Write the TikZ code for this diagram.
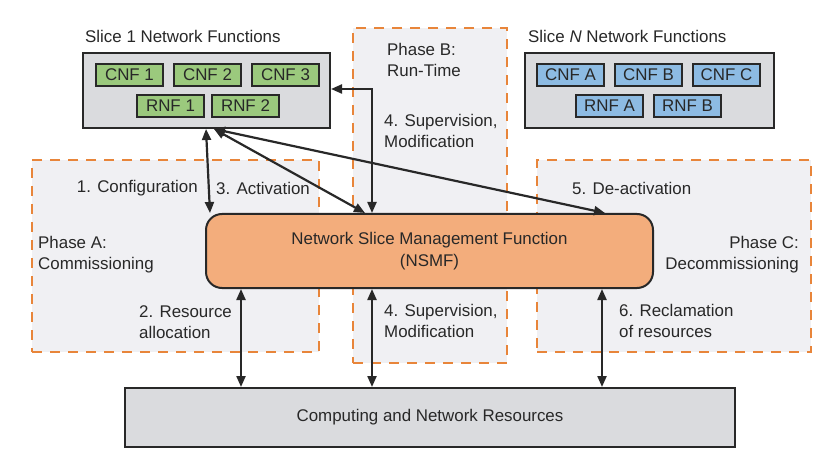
\documentclass[tikz,border=0pt]{standalone}
\usepackage{fontspec}
\setmainfont{Liberation Sans}
\usetikzlibrary{arrows.meta}
\definecolor{grn}{RGB}{155,201,125}
\definecolor{blu}{RGB}{141,187,227}
\definecolor{boxgray}{RGB}{218,219,222}
\definecolor{phasebg}{RGB}{240,240,243}
\definecolor{orng}{RGB}{232,133,58}
\definecolor{nsmfc}{RGB}{243,173,124}
\definecolor{dk}{RGB}{40,40,40}
\begin{document}
\begin{tikzpicture}[x=1pt,y=-1pt,
  lbl/.style={font=\fontsize{16.9}{21}\selectfont, inner sep=0pt, align=left, text=dk},
  phase/.style={draw=orng, fill=phasebg, line width=2pt, dash pattern=on 10pt off 8pt, inner sep=0pt, anchor=north west},
  slicebox/.style={draw=dk, fill=boxgray, line width=2pt, inner sep=0pt, anchor=north west, minimum height=75pt},
  nf/.style={draw=dk, line width=2pt, inner sep=0pt, anchor=north west, minimum width=67pt, minimum height=22pt, font=\fontsize{16.9}{20}\selectfont, text=dk},
  cnf/.style={nf, fill=grn},
  bnf/.style={nf, fill=blu},
  dbl/.style={draw=dk, line width=2.2pt, {Triangle[length=11pt,width=9pt]}-{Triangle[length=11pt,width=9pt]}},
]
\useasboundingbox[fill=white] (0,0) rectangle (821,462);

% phase regions
\node[phase, minimum width=287pt, minimum height=192pt] (pa) at (31,159) {};
\node[phase, minimum width=154pt, minimum height=335pt] (pb) at (352,27) {};
\node[phase, minimum width=274pt, minimum height=192pt] (pc) at (536,159) {};

% slice 1
\node[lbl, anchor=west] (t1) at (85,36) {Slice 1 Network Functions};
\node[slicebox, minimum width=247pt] (s1) at (82,52) {};
\node[cnf] (c1) at (95,63) {CNF 1};
\node[cnf] (c2) at (173,63) {CNF 2};
\node[cnf] (c3) at (251,63) {CNF 3};
\node[cnf] (r1) at (136,94) {RNF 1};
\node[cnf] (r2) at (211,94) {RNF 2};

% slice N
\node[lbl, anchor=west] (tn) at (528,36) {Slice \textit{N} Network Functions};
\node[slicebox, minimum width=249pt] (sn) at (524,52) {};
\node[bnf] (ca) at (536,63) {CNF A};
\node[bnf] (cb) at (614,63) {CNF B};
\node[bnf] (cc) at (692,63) {CNF C};
\node[bnf] (ra) at (575,94) {RNF A};
\node[bnf] (rb) at (653,94) {RNF B};

% NSMF
\node[draw=dk, fill=nsmfc, line width=2pt, rounded corners=16pt, anchor=north west,
      minimum width=447pt, minimum height=74pt, inner sep=0pt, align=center,
      font=\fontsize{16.9}{22}\selectfont, text=dk] (nsmf) at (205,213)
      {Network Slice Management Function\\(NSMF)};

% resources
\node[draw=dk, fill=boxgray, line width=2pt, anchor=north west, minimum width=610pt,
      minimum height=59pt, inner sep=0pt, text=dk, font=\fontsize{16.9}{20}\selectfont]
      (res) at (124,387) {Computing and Network Resources};

% labels
\node[lbl, anchor=east] (l1) at (198,188) {1. Configuration};
\node[lbl, anchor=west] (l3) at (216,188) {3. Activation};
\node[lbl, anchor=west] (lpa) at (38,255) {Phase A:\\Commissioning};
\node[lbl, anchor=west] (l2) at (139,322) {2. Resource\\allocation};
\node[lbl, anchor=west] (lpb) at (387,60) {Phase B:\\Run-Time};
\node[lbl, anchor=west] (l4a) at (384,131) {4. Supervision,\\Modification};
\node[lbl, anchor=west] (l4b) at (384,321) {4. Supervision,\\Modification};
\node[lbl, anchor=west] (l5) at (572,188) {5. De-activation};
\node[lbl, anchor=east, align=right] (lpc) at (799,255) {Phase C:\\Decommissioning};
\node[lbl, anchor=west] (l6) at (619,321) {6. Reclamation\\of resources};

% connectors
\draw[dbl] (s1.south -| 206,0) -- (nsmf.north -| 210,0);
\draw[dbl] (s1.south -| 214,0) -- (nsmf.north -| 365,0);
\draw[dbl] (s1.south -| 214,0) -- (nsmf.north -| 605,0);
\draw[dbl] (s1.east |- 0,89) -| (nsmf.north -| 372,0);
\draw[dbl] (nsmf.south -| 241,0) -- (res.north -| 241,0);
\draw[dbl] (nsmf.south -| 372,0) -- (res.north -| 372,0);
\draw[dbl] (nsmf.south -| 602,0) -- (res.north -| 602,0);
\end{tikzpicture}
\end{document}
